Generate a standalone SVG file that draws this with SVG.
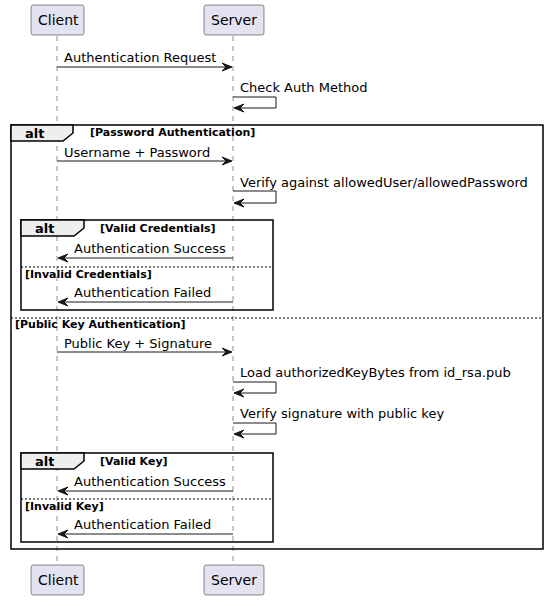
<svg xmlns="http://www.w3.org/2000/svg" width="549" height="600" viewBox="0 0 549 600">
<style>
.part{fill:#E2E2F0;stroke:#181818;stroke-width:0.5}
.ptxt{font-family:"DejaVu Sans",sans-serif;font-size:14px;fill:#000}
.life{stroke:#181818;stroke-width:0.5;stroke-dasharray:5,5;fill:none}
.msg{stroke:#181818;stroke-width:1;fill:none}
.head{fill:#181818;stroke:#181818;stroke-width:1}
.mtxt{font-family:"DejaVu Sans",sans-serif;font-size:13px;fill:#000}
.frame{fill:none;stroke:#000;stroke-width:1.5}
.tab{fill:#EEEEEE;stroke:#000;stroke-width:1.5}
.alt{font-family:"DejaVu Sans",sans-serif;font-size:13px;font-weight:bold;fill:#000}
.glbl{font-family:"DejaVu Sans",sans-serif;font-size:11px;font-weight:bold;fill:#000}
.sep{stroke:#000;stroke-width:1;stroke-dasharray:2,2;fill:none}
</style>
<rect width="549" height="600" fill="#FFFFFF"/>
<g id="lifelines">
<line class="life" x1="57" y1="36" x2="57" y2="566"/>
<line class="life" x1="233" y1="36" x2="233" y2="566"/>
</g>
<g id="client-top"><rect class="part" x="31" y="5" width="53" height="30" rx="2.5"/><text class="ptxt" x="38" y="25">Client</text></g>
<g id="server-top"><rect class="part" x="204" y="5" width="60" height="30" rx="2.5"/><text class="ptxt" x="211" y="25">Server</text></g>
<g id="client-bottom"><rect class="part" x="31" y="565" width="53" height="30" rx="2.5"/><text class="ptxt" x="38" y="585">Client</text></g>
<g id="server-bottom"><rect class="part" x="204" y="565" width="60" height="30" rx="2.5"/><text class="ptxt" x="211" y="585">Server</text></g>

<g id="frame-outer">
<rect class="frame" x="11" y="125" width="532" height="424"/>
<polygon class="tab" points="11,125 73,125 73,133 63,141 11,141"/>
<text class="alt" x="25" y="138">alt</text>
<text class="glbl" x="90" y="136">[Password Authentication]</text>
<line class="sep" x1="11" y1="318" x2="543" y2="318"/>
<text class="glbl" x="15" y="328">[Public Key Authentication]</text>
</g>
<g id="frame-inner1">
<rect class="frame" x="21" y="220" width="252" height="90"/>
<polygon class="tab" points="21,220 84,220 84,228 74,236 21,236"/>
<text class="alt" x="35" y="233">alt</text>
<text class="glbl" x="100" y="232">[Valid Credentials]</text>
<line class="sep" x1="21" y1="267" x2="273" y2="267"/>
<text class="glbl" x="25" y="278">[Invalid Credentials]</text>
</g>
<g id="frame-inner2">
<rect class="frame" x="21" y="453" width="252" height="89"/>
<polygon class="tab" points="21,453 84,453 84,461 74,469 21,469"/>
<text class="alt" x="35" y="466">alt</text>
<text class="glbl" x="100" y="465">[Valid Key]</text>
<line class="sep" x1="21" y1="499" x2="273" y2="499"/>
<text class="glbl" x="25" y="510">[Invalid Key]</text>
</g>

<g id="connectors">
<line class="msg" x1="57" y1="67" x2="231" y2="67"/>
<polygon class="head" points="222,63 232,67 222,71 226,67"/>
<text class="mtxt" x="64" y="62">Authentication Request</text>

<polyline class="msg" points="233,97 276,97 276,108 235,108"/>
<polygon class="head" points="244,104 234,108 244,112 240,108"/>
<text class="mtxt" x="240" y="92">Check Auth Method</text>

<line class="msg" x1="57" y1="161" x2="231" y2="161"/>
<polygon class="head" points="222,157 232,161 222,165 226,161"/>
<text class="mtxt" x="64" y="157">Username + Password</text>

<polyline class="msg" points="233,191 276,191 276,203 235,203"/>
<polygon class="head" points="244,199 234,203 244,207 240,203"/>
<text class="mtxt" x="240" y="187">Verify against allowedUser/allowedPassword</text>

<line class="msg" x1="233" y1="258" x2="59" y2="258"/>
<polygon class="head" points="68,254 58,258 68,262 64,258"/>
<text class="mtxt" x="74" y="253">Authentication Success</text>

<line class="msg" x1="233" y1="302" x2="59" y2="302"/>
<polygon class="head" points="68,298 58,302 68,306 64,302"/>
<text class="mtxt" x="74" y="297">Authentication Failed</text>

<line class="msg" x1="57" y1="352" x2="231" y2="352"/>
<polygon class="head" points="222,348 232,352 222,356 226,352"/>
<text class="mtxt" x="64" y="348">Public Key + Signature</text>

<polyline class="msg" points="233,382 276,382 276,393 235,393"/>
<polygon class="head" points="244,389 234,393 244,397 240,393"/>
<text class="mtxt" x="240" y="377">Load authorizedKeyBytes from id_rsa.pub</text>

<polyline class="msg" points="233,423 276,423 276,434 235,434"/>
<polygon class="head" points="244,430 234,434 244,438 240,434"/>
<text class="mtxt" x="240" y="418">Verify signature with public key</text>

<line class="msg" x1="233" y1="491" x2="59" y2="491"/>
<polygon class="head" points="68,487 58,491 68,495 64,491"/>
<text class="mtxt" x="74" y="486">Authentication Success</text>

<line class="msg" x1="233" y1="534" x2="59" y2="534"/>
<polygon class="head" points="68,530 58,534 68,538 64,534"/>
<text class="mtxt" x="74" y="529">Authentication Failed</text>
</g>
</svg>
